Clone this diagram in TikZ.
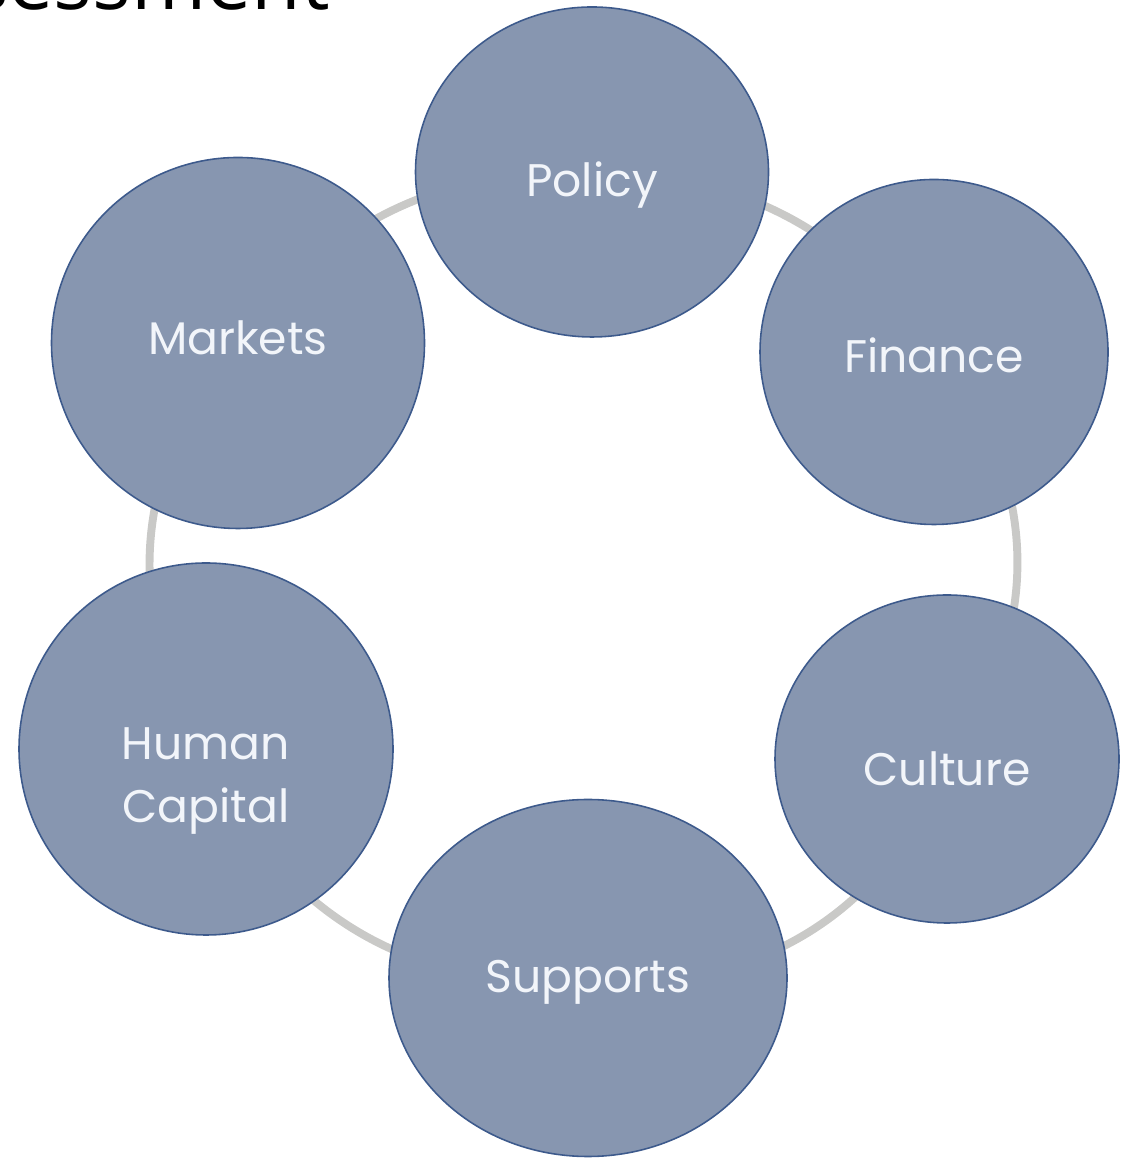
\documentclass[tikz,border=0pt]{standalone}
\usepackage{fontspec}
\setmainfont{Poppins}
\newfontfamily\headfont{Open Sans}
\definecolor{pillarfill}{HTML}{8796B0}
\definecolor{pillaredge}{HTML}{3D5A8C}
\definecolor{ringgray}{HTML}{C9C9C7}
\definecolor{labelwhite}{HTML}{F2F5FA}
\usetikzlibrary{shapes.geometric, backgrounds}
% label whose first baseline sits #1 below the node centre
\newcommand{\sunk}[2]{\raisebox{-#1}[0pt][0pt]{\begin{tabular}[t]{@{}c@{}}#2\end{tabular}}}

\begin{document}
\begin{tikzpicture}[
    pillar/.style={ellipse, draw=pillaredge, line width=0.9pt, fill=pillarfill, inner sep=0pt,
      text=labelwhite, font=\fontsize{26}{36}\selectfont},
    ring/.style={ringgray, line width=4.5pt}]
  \useasboundingbox (0,0) rectangle (22.4,23.16);
  \clip (0,0) rectangle (22.4,23.16);
  \node[font=\headfont\fontsize{46}{50}\selectfont, anchor=base east] (title) at (6.72, 22.96) {Assessment};

  % the six pillars, clockwise from the top
  \node[pillar, minimum width=7.06cm, minimum height=6.6cm] (policy) at (11.84, 19.72) {\sunk{14.2pt}{Policy}};
  \node[pillar, minimum width=6.96cm, minimum height=6.9cm] (finance) at (18.68, 16.12) {\sunk{11.9pt}{Finance}};
  \node[pillar, minimum width=6.88cm, minimum height=6.56cm] (culture) at (18.94, 7.98) {\sunk{15.3pt}{Culture}};
  \node[pillar, minimum width=7.96cm, minimum height=7.14cm] (supports) at (11.76, 3.6) {\sunk{8pt}{Supports}};
  \node[pillar, minimum width=7.48cm, minimum height=7.44cm] (human) at (4.12, 8.18) {\sunk{5.7pt}{Human\\Capital}};
  \node[pillar, minimum width=7.46cm, minimum height=7.42cm] (markets) at (4.76, 16.3) {\sunk{6.3pt}{Markets}};

  % grey ring behind the pillars
  \begin{scope}[on background layer]
    \draw[ring] (markets.center) to[bend left=27] (policy.center);
    \draw[ring] (policy.center) to[bend left=27] (finance.center);
    \draw[ring] (finance.center) to[bend left=40] (culture.center);
    \draw[ring] (culture.center) to[bend left=38] (supports.center);
    \draw[ring] (supports.center) to[bend left=37] (human.center);
    \draw[ring] (human.center) to[bend left=37] (markets.center);
  \end{scope}
\end{tikzpicture}
\end{document}
